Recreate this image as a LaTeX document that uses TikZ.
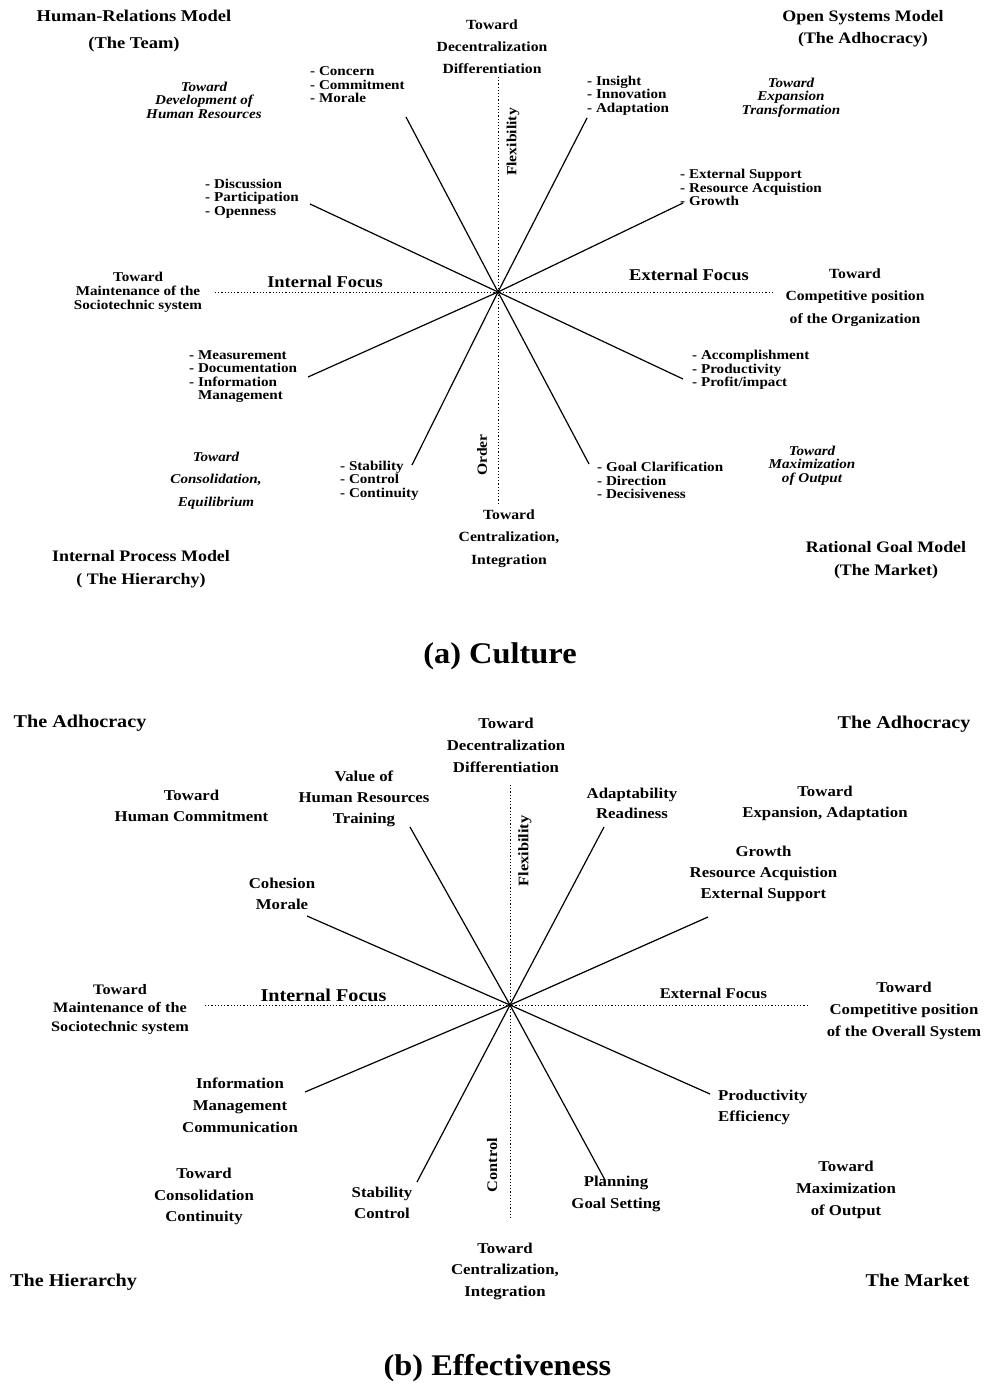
\documentclass[tikz,border=0pt]{standalone}
\usepackage{fontspec}
\setmainfont{Liberation Serif}[FakeStretch=1.12, UprightFont={* Bold}, ItalicFont={* Bold Italic}]
\newfontfamily\titlefont{Liberation Serif}[FakeStretch=1.08]
\newcommand\fsz[2]{\fontsize{#1}{#2}\selectfont}
\tikzset{
  lbl/.style={inner sep=0pt, align=center},
  lst/.style={inner sep=0pt, align=left, anchor=west, font=\fsz{13.5}{13.5}},
  itl/.style={inner sep=0pt, align=center, font=\itshape\fsz{13.5}{13.5}},
  vtxt/.style={inner sep=0pt, rotate=90},
  spoke/.style={line width=1.2pt},
  axisline/.style={line width=0.7pt, dash pattern=on 1.2pt off 2pt},
}
\begin{document}
\begin{tikzpicture}[x=1pt, y=-1pt]
\useasboundingbox (0,0) rectangle (987,1388);

% ---------- (a) Culture ----------
\coordinate (ca) at (498,292);
\coordinate (aW) at (215,292);
\coordinate (aE) at (773,292);
\coordinate (aN) at (498,77);
\coordinate (aS) at (498,503);
\draw[axisline] (aW) -- (aE);
\draw[axisline] (aN) -- (aS);

\node[lbl, font=\fsz{16.5}{27}] (hrm) at (134,31.5) {Human-Relations Model\\(The Team)};
\node[lbl, font=\fsz{16}{22}] (osm) at (863,29) {Open Systems Model\\(The Adhocracy)};
\node[lbl, font=\fsz{14}{22}] (atop) at (492,47) {Toward\\Decentralization\\Differentiation};
\node[itl] (ahr) at (204,100) {Toward\\Development of\\Human Resources};
\node[lst] (aconcern) at (310,85) {- Concern\\- Commitment\\- Morale};
\node[lst] (ainsight) at (587,95.5) {- Insight\\- Innovation\\- Adaptation};
\node[itl] (aexp) at (791,97.5) {Toward\\Expansion\\Transformation};
\node[vtxt, font=\fsz{14}{14}] (aflex) at (513,142) {Flexibility};
\node[lst] (aext) at (680,187.5) {- External Support\\- Resource Acquistion\\- Growth};
\node[lst] (adisc) at (205,198.5) {- Discussion\\- Participation\\- Openness};
\node[lbl, font=\fsz{13.5}{14}] (amaint) at (138,292) {Toward\\Maintenance of the\\Sociotechnic system};
\node[lbl, font=\fsz{16.5}{16.5}] (aint) at (325,282) {Internal Focus};
\node[lbl, font=\fsz{16.5}{16.5}] (aextf) at (689,275) {External Focus};
\node[lbl, font=\fsz{14}{22.5}] (acomp) at (855,297.5) {Toward\\Competitive position\\of the Organization};
\node[lst] (ameas) at (189,376.5) {- Measurement\\- Documentation\\- Information\\\phantom{- }Management};
\node[lst] (aacc) at (692,370) {- Accomplishment\\- Productivity\\- Profit/impact};
\node[itl, font=\itshape\fsz{13.5}{22.5}] (acons) at (216,480.5) {Toward\\Consolidation,\\Equilibrium};
\node[vtxt, font=\fsz{14}{14}] (aorder) at (482,455) {Order};
\node[lst] (astab) at (340,480.5) {- Stability\\- Control\\- Continuity};
\node[lst] (agoal) at (597,480.5) {- Goal Clarification\\- Direction\\- Decisiveness};
\node[itl] (amax) at (812,465.5) {Toward\\Maximization\\of Output};
\node[lbl, font=\fsz{14}{22.5}] (acent) at (509,538.5) {Toward\\Centralization,\\Integration};
\node[lbl, font=\fsz{16}{23}] (aipm) at (141,569.5) {Internal Process Model\\( The Hierarchy)};
\node[lbl, font=\fsz{16}{23}] (argm) at (886,560.5) {Rational Goal Model\\(The Market)};
\node[lbl, font=\titlefont\bfseries\fsz{30}{30}] (atitle) at (500,656) {(a) Culture};

\coordinate (a1) at (406,117);
\coordinate (a2) at (587,118);
\coordinate (a3) at (683,203);
\coordinate (a4) at (683,379);
\coordinate (a5) at (589,464);
\coordinate (a6) at (412,465);
\coordinate (a7) at (308,377);
\coordinate (a8) at (310,204);
\foreach \e in {a1,a2,a3,a4,a5,a6,a7,a8} \draw[spoke] (ca) -- (\e);

% ---------- (b) Effectiveness ----------
\coordinate (cb) at (510,1005);
\coordinate (bW) at (205,1005);
\coordinate (bE) at (808,1005);
\coordinate (bN) at (510,785);
\coordinate (bS) at (510,1220);
\draw[axisline] (bW) -- (bE);
\draw[axisline] (bN) -- (bS);

\node[lbl, font=\fsz{18}{18}] (badhl) at (80,723) {The Adhocracy};
\node[lbl, font=\fsz{18}{18}] (badhr) at (904,724) {The Adhocracy};
\node[lbl, font=\fsz{15}{22}] (btop) at (506,745) {Toward\\Decentralization\\Differentiation};
\node[lbl, font=\fsz{15}{21}] (bhc) at (191.5,805.5) {Toward\\Human Commitment};
\node[lbl, font=\fsz{15}{21}] (bvhr) at (364,799) {Value of\\Human Resources\\Training};
\node[lbl, font=\fsz{15}{20}] (badapt) at (632,803) {Adaptability\\Readiness};
\node[lbl, font=\fsz{15}{21}] (bexp) at (825,803.5) {Toward\\Expansion, Adaptation};
\node[vtxt, font=\fsz{14.6}{14.6}] (bflex) at (525,851) {Flexibility};
\node[lbl, font=\fsz{15}{21}] (bgrowth) at (763.5,874) {Growth\\Resource Acquistion\\External Support};
\node[lbl, font=\fsz{15}{21}] (bcoh) at (282,893.5) {Cohesion\\Morale};
\node[lbl, font=\fsz{14.5}{18.5}] (bmaint) at (120,1009.5) {Toward\\Maintenance of the\\Sociotechnic system};
\node[lbl, font=\fsz{18}{18}] (bint) at (323.5,995) {Internal Focus};
\node[lbl, font=\fsz{14.8}{14.8}] (bextf) at (713.5,993) {External Focus};
\node[lbl, font=\fsz{15}{22}] (bcomp) at (904,1011) {Toward\\Competitive position\\of the Overall System};
\node[lbl, font=\fsz{15}{22}] (binfo) at (240,1105) {Information\\Management\\Communication};
\node[lbl, align=left, anchor=west, font=\fsz{15}{21}] (bprod) at (718,1107.5) {Productivity\\Efficiency};
\node[lbl, font=\fsz{15}{21.5}] (bcons) at (204,1196.5) {Toward\\Consolidation\\Continuity};
\node[lbl, font=\fsz{15}{21}] (bstab) at (382,1202.5) {Stability\\Control};
\node[vtxt, font=\fsz{14.6}{14.6}] (bctrl) at (492,1165) {Control};
\node[lbl, font=\fsz{15}{22}] (bplan) at (616,1194) {Planning\\Goal Setting};
\node[lbl, font=\fsz{15}{22}] (bmax) at (846,1190) {Toward\\Maximization\\of Output};
\node[lbl, font=\fsz{15}{21.5}] (bcent) at (505,1271) {Toward\\Centralization,\\Integration};
\node[lbl, font=\fsz{18}{18}] (bhier) at (73.5,1282) {The Hierarchy};
\node[lbl, font=\fsz{18}{18}] (bmkt) at (917.5,1280) {The Market};
\node[lbl, font=\titlefont\bfseries\fsz{30}{30}] (btitle) at (497.5,1368) {(b) Effectiveness};

\coordinate (b1) at (410,827);
\coordinate (b2) at (604,827);
\coordinate (b3) at (708,917);
\coordinate (b4) at (710,1094);
\coordinate (b5) at (605,1180);
\coordinate (b6) at (417,1182);
\coordinate (b7) at (305,1092);
\coordinate (b8) at (307,916);
\foreach \e in {b1,b2,b3,b4,b5,b6,b7,b8} \draw[spoke] (cb) -- (\e);
\end{tikzpicture}
\end{document}
